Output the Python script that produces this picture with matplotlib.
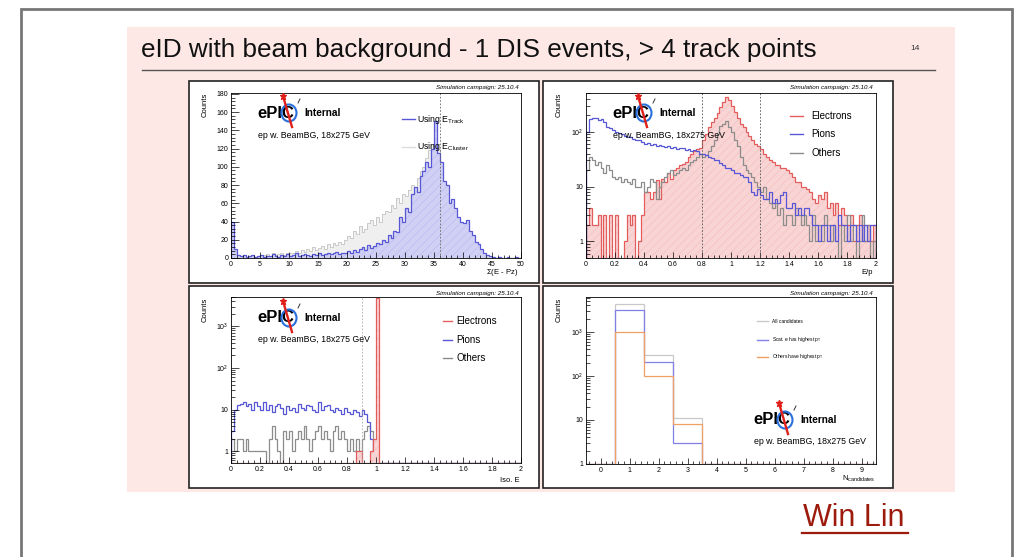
import numpy as np
import matplotlib
matplotlib.use('Agg')
import matplotlib.pyplot as plt
from matplotlib.patches import Rectangle, Ellipse
from matplotlib.lines import Line2D
from matplotlib.ticker import MultipleLocator, FixedLocator, LogLocator, NullFormatter

plt.rcParams['font.family'] = ['Liberation Sans', 'DejaVu Sans']
plt.rcParams['mathtext.fontset'] = 'custom'
plt.rcParams['mathtext.rm'] = 'Liberation Sans'
plt.rcParams['mathtext.it'] = 'Liberation Sans:italic'
plt.rcParams['hatch.linewidth'] = 0.35

# ---- data ----
# panel 1: Sigma(E - Pz), 0.5 wide bins from 0 to 50
epz_edges = np.linspace(0, 50, 101)
epz_track = [
    40, 10, 3, 2, 3, 1, 2, 3, 1, 2,
    3, 1, 2, 2, 4, 2, 1, 3, 2, 4,
    2, 3, 5, 2, 3, 4, 3, 2, 4, 3,
    5, 3, 4, 6, 4, 5, 7, 4, 6, 5,
    8, 6, 9, 7, 10, 12, 9, 14, 11, 13,
    16, 15, 20, 18, 25, 22, 30, 28, 45, 40,
    55, 50, 70, 78, 72, 90, 95, 105, 100, 120,
    150, 115, 105, 85, 80, 60, 65, 55, 45, 40,
    38, 42, 30, 25, 18, 15, 10, 6, 3, 2,
    1, 0, 1, 0, 0, 1, 0, 0, 1, 0]
epz_cluster = [
    35, 5, 2, 1, 2, 1, 1, 2, 1, 1,
    2, 3, 4, 2, 5, 3, 4, 6, 3, 5,
    6, 5, 8, 6, 9, 7, 10, 8, 12, 9,
    11, 13, 10, 15, 12, 16, 14, 18, 15, 20,
    24, 22, 30, 26, 35, 28, 32, 38, 42, 36,
    45, 40, 48, 52, 50, 58, 55, 66, 60, 70,
    68, 75, 80, 78, 88, 95, 100, 110, 118, 125,
    130, 120, 80, 42, 24, 14, 9, 5, 3, 2,
    1, 1, 0, 1, 0, 0, 0, 0, 0, 0,
    0, 0, 0, 0, 0, 0, 0, 0, 0, 0]

# panel 2: E/p, 0.02 wide bins from 0 to 2
ep_edges = np.linspace(0, 2, 101)
ep_electrons = [
    2, 4, 2, 2, 3, 0, 3, 0, 3, 0,
    3, 0, 0, 1, 3, 2, 3, 0, 1, 3,
    8, 8, 6, 8, 13, 6, 14, 12, 18, 14,
    20, 22, 25, 26, 28, 35, 40, 45, 48, 50,
    70, 90, 120, 150, 180, 220, 280, 350, 440, 380,
    300, 230, 180, 140, 120, 100, 85, 70, 60, 55,
    48, 40, 35, 30, 28, 25, 25, 22, 22, 20,
    18, 15, 12, 12, 10, 10, 9, 8, 6, 5,
    7, 6, 8, 4, 5, 3, 5, 2, 4, 3,
    2, 3, 1, 2, 3, 2, 1, 2, 1, 2]
ep_pions = [
    100, 170, 180, 175, 165, 170, 150, 120, 115, 110,
    100, 95, 90, 85, 80, 82, 75, 70, 72, 65,
    60, 62, 58, 60, 55, 58, 55, 52, 55, 50,
    52, 48, 50, 50, 47, 48, 45, 46, 45, 40,
    40, 38, 35, 33, 30, 30, 27, 25, 22, 22,
    20, 18, 18, 16, 15, 15, 12, 8, 7, 9,
    7, 6, 6, 8, 5, 6, 5, 7, 8, 4,
    4, 5, 3, 4, 3, 4, 4, 3, 2, 2,
    1, 2, 2, 1, 2, 2, 1, 3, 2, 2,
    1, 2, 2, 1, 2, 1, 2, 1, 2, 2]
ep_others = [
    20, 35, 30, 25, 28, 22, 18, 25, 20, 15,
    14, 15, 12, 14, 12, 11, 14, 10, 10, 12,
    8, 10, 14, 12, 6, 10, 12, 15, 18, 20,
    16, 18, 20, 22, 20, 25, 28, 30, 35, 40,
    35, 38, 45, 55, 70, 90, 130, 140, 160, 120,
    100, 70, 55, 35, 25, 20, 18, 15, 12, 10,
    8, 10, 6, 5, 4, 5, 3, 4, 2, 3,
    3, 2, 4, 3, 2, 3, 2, 1, 3, 1,
    2, 1, 3, 2, 1, 2, 1, 0, 2, 1,
    3, 1, 2, 0, 1, 3, 1, 2, 0, 1]

# panel 3: Iso. E, 0.02 wide bins from 0 to 2
iso_edges = np.linspace(0, 2, 101)
iso_electrons = [
    0, 0, 0, 0, 0, 0, 0, 0, 0, 0,
    0, 0, 0, 0, 0, 0, 0, 0, 0, 0,
    0, 0, 0, 0, 0, 0, 0, 0, 0, 0,
    0, 0, 0, 0, 0, 0, 0, 0, 0, 0,
    0, 0, 0, 1, 1, 0, 0, 0, 1, 2,
    4700, 0, 0, 0, 0, 0, 0, 0, 0, 0,
    0, 0, 0, 0, 0, 0, 0, 0, 0, 0,
    0, 0, 0, 0, 0, 0, 0, 0, 0, 0,
    0, 0, 0, 0, 0, 0, 0, 0, 0, 0,
    0, 0, 0, 0, 0, 0, 0, 0, 0, 0]
iso_pions = [
    3, 10, 13, 14, 15, 12, 14, 10, 15, 12,
    10, 15, 10, 13, 9, 12, 14, 11, 8, 12,
    10, 11, 9, 14, 11, 10, 13, 12, 10, 9,
    15, 10, 12, 13, 10, 9, 11, 10, 8, 11,
    9, 8, 10, 9, 7, 10, 8, 5, 2, 0,
    0, 0, 0, 0, 0, 0, 0, 0, 0, 0,
    0, 0, 0, 0, 0, 0, 0, 0, 0, 0,
    0, 0, 0, 0, 0, 0, 0, 0, 0, 0,
    0, 0, 0, 0, 0, 0, 0, 0, 0, 0,
    0, 0, 0, 0, 0, 0, 0, 0, 0, 0]
iso_others = [
    2, 1, 2, 2, 1, 2, 1, 1, 1, 1,
    1, 1, 0, 2, 4, 2, 1, 0, 3, 2,
    3, 1, 2, 3, 2, 4, 2, 1, 2, 3,
    4, 2, 3, 2, 1, 3, 4, 2, 3, 2,
    1, 2, 1, 2, 1, 2, 3, 4, 3, 0,
    0, 0, 0, 0, 0, 0, 0, 0, 0, 0,
    0, 0, 0, 0, 0, 0, 0, 0, 0, 0,
    0, 0, 0, 0, 0, 0, 0, 0, 0, 0,
    0, 0, 0, 0, 0, 0, 0, 0, 0, 0,
    0, 0, 0, 0, 0, 0, 0, 0, 0, 0]

# panel 4: number of candidates, bins centred on 0..9
ncand_edges = np.arange(-0.5, 10.5, 1.0)
ncand_all = [0, 4200, 295, 11, 0, 0, 0, 0, 0, 0]
ncand_scat = [0, 3100, 205, 3, 0, 0, 0, 0, 0, 0]
ncand_other = [0, 1020, 98, 8, 0, 0, 0, 0, 0, 0]

title = 'eID with beam background - 1 DIS events, > 4 track points'
campaign = 'Simulation campaign: 25.10.4'
beam_text = 'ep w. BeamBG, 18x275 GeV'

# ---- colours ----
BLUE = '#5757d6'
RED = '#e35d5d'
GREY = '#8c8c8c'
LGREY = '#c9c9c9'
ORANGE = '#f0a064'

W, H = 1023, 557
fig = plt.figure(figsize=(W / 100, H / 100), dpi=100)


def fx(x):
    return x / W


def fy(y):
    return 1 - y / H


def box(x0, y0, x1, y1, **kw):
    r = Rectangle((fx(x0), fy(y1)), (x1 - x0) / W, (y1 - y0) / H,
                  transform=fig.transFigure, **kw)
    fig.add_artist(r)


def add_ax(l, t, r, b):
    return fig.add_axes([l / W, 1 - b / H, (r - l) / W, (b - t) / H])


def draw_logo(x, y):
    # rough ePIC logo: text + blue ring + red arrow
    fig.text(fx(x), fy(y), 'ePIC', fontsize=12, fontweight='bold',
             va='center', ha='left', color='black')
    fig.add_artist(Ellipse((fx(x + 32), fy(y)), 15 / W, 17 / H, transform=fig.transFigure,
                           fill=False, ec='#2a6fdc', lw=1.5, zorder=4))
    fig.add_artist(Line2D([fx(x + 26), fx(x + 35)], [fy(y - 17), fy(y + 14)],
                          transform=fig.transFigure, color='#e0201b', lw=1.7, zorder=5))
    fig.add_artist(Line2D([fx(x + 26)], [fy(y - 17)], transform=fig.transFigure,
                          marker='*', ms=5, color='#e0201b', zorder=5))
    fig.add_artist(Line2D([fx(x + 41), fx(x + 43)], [fy(y - 10), fy(y - 14)],
                          transform=fig.transFigure, color='#333', lw=0.7, zorder=5))
    fig.text(fx(x + 47), fy(y), 'Internal', fontsize=7.3, fontweight='bold',
             va='center', ha='left')
    fig.text(fx(x + 1), fy(y + 22), beam_text, fontsize=6.3, va='center', ha='left')


def style(ax, xmaj, xmin):
    ax.tick_params(which='both', direction='in', top=False, right=False,
                   labelsize=5, pad=2, width=0.5)
    ax.tick_params(axis='y', which='major', length=6)
    ax.tick_params(axis='y', which='minor', length=3)
    ax.tick_params(axis='x', which='major', length=4)
    ax.tick_params(axis='x', which='minor', length=2)
    ax.xaxis.set_major_locator(MultipleLocator(xmaj))
    ax.xaxis.set_minor_locator(MultipleLocator(xmin))
    for s in ax.spines.values():
        s.set_linewidth(0.6)


def log_y(ax, lo, hi, labels):
    ax.set_yscale('log')
    ax.set_ylim(lo, hi)
    ax.yaxis.set_major_locator(FixedLocator([10 ** i for i in range(len(labels))]))
    ax.set_yticklabels(labels)
    ax.yaxis.set_minor_locator(LogLocator(base=10, subs=np.arange(2, 10)))
    ax.yaxis.set_minor_formatter(NullFormatter())


def hist(ax, vals, edges, color, floor, lw=0.9, fc=None, hatch=None, hc=None):
    v = np.maximum(np.asarray(vals, dtype=float), floor)
    if fc is not None:
        ax.stairs(v, edges, baseline=floor, fill=True, color=fc, lw=0)
        if hatch:
            ax.stairs(v, edges, baseline=floor, fill=True, facecolor='none',
                      edgecolor=hc, hatch=hatch, lw=0)
    ax.stairs(v, edges, baseline=floor, color=color, lw=lw)


def legend(ax, x0, x1, xt, ys, names, colors, fs):
    for y, n, c in zip(ys, names, colors):
        ax.plot([x0, x1], [y, y], color=c, lw=1.0, transform=ax.transAxes, clip_on=False)
        ax.text(xt, y, n, fontsize=fs, va='center', ha='left', transform=ax.transAxes)


# ---- slide background ----
box(21, 9, 1012, 620, fc='white', ec='#777777', lw=2, zorder=-5)
box(127, 27, 955, 492, fc='#fde8e6', ec='none', zorder=-4)
fig.add_artist(Line2D([fx(142), fx(935)], [fy(70), fy(70)], transform=fig.transFigure,
                      color='#555555', lw=1.0, zorder=-3))
fig.text(fx(141), fy(50), title, fontsize=18.8, va='center', ha='left', color='#111111')
fig.text(fx(915), fy(48), '14', fontsize=6, va='center', ha='center', color='#333333')
fig.text(fx(854), fy(518), 'Win Lin', fontsize=22, va='center', ha='center', color='#9c1b0c')
fig.add_artist(Line2D([fx(802), fx(908)], [fy(533), fy(533)], transform=fig.transFigure,
                      color='#9c1b0c', lw=1.6))

panels = [(189, 81, 539, 283), (543, 81, 893, 283), (189, 286, 539, 488), (543, 286, 893, 488)]
for p in panels:
    box(*p, fc='white', ec='#222222', lw=1.2, zorder=-2)

# ---- panel 1 ----
ax1 = add_ax(231, 93, 521, 258)
style(ax1, 5, 1)
ax1.set_xlim(0, 50)
ax1.set_ylim(0, 181)
ax1.yaxis.set_major_locator(MultipleLocator(20))
ax1.yaxis.set_minor_locator(MultipleLocator(4))
ax1.set_xticks(range(0, 51, 5))
hist(ax1, epz_cluster, epz_edges, LGREY, 0, lw=0.7, fc='#efefef')
hist(ax1, epz_track, epz_edges, BLUE, 0, lw=0.9, fc='#d0d0f5', hatch='////', hc='#b4b4ee')
ax1.axvline(36, color='#666666', ls=(0, (2, 2)), lw=0.6)
legend(ax1, 0.59, 0.634, 0.641, [0.842, 0.673],
       [r'Using E$_{\rm Track}$', r'Using E$_{\rm Cluster}$'], [BLUE, '#dddddd'], 6.3)

# ---- panel 2 ----
ax2 = add_ax(586, 93, 876, 258)
style(ax2, 0.2, 0.04)
ax2.set_xlim(0, 2)
log_y(ax2, 0.5, 510, ['1', '10', r'10$^2$'])
ax2.set_xticks(np.arange(0, 2.01, 0.2))
ax2.set_xticklabels(['0', '0.2', '0.4', '0.6', '0.8', '1', '1.2', '1.4', '1.6', '1.8', '2'])
hist(ax2, ep_electrons, ep_edges, RED, 0.5, lw=0.9, fc='#f9d4d4', hatch='////', hc='#f1baba')
hist(ax2, ep_others, ep_edges, GREY, 0.5, lw=0.9)
hist(ax2, ep_pions, ep_edges, BLUE, 0.5, lw=0.9)
ax2.axvline(0.8, color='#555555', ls=(0, (2, 2)), lw=0.6)
ax2.axvline(1.2, color='#555555', ls=(0, (2, 2)), lw=0.6)
legend(ax2, 0.703, 0.748, 0.778, [0.861, 0.752, 0.636],
       ['Electrons', 'Pions', 'Others'], [RED, BLUE, GREY], 7)

# ---- panel 3 ----
ax3 = add_ax(231, 297, 521, 463)
style(ax3, 0.2, 0.04)
ax3.set_xlim(0, 2)
log_y(ax3, 0.52, 5100, ['1', '10', r'10$^2$', r'10$^3$'])
ax3.set_xticks(np.arange(0, 2.01, 0.2))
ax3.set_xticklabels(['0', '0.2', '0.4', '0.6', '0.8', '1', '1.2', '1.4', '1.6', '1.8', '2'])
hist(ax3, iso_others, iso_edges, GREY, 0.52, lw=0.9)
hist(ax3, iso_pions, iso_edges, BLUE, 0.52, lw=0.9)
hist(ax3, iso_electrons, iso_edges, RED, 0.52, lw=0.9, fc='#f9d4d4', hatch='////', hc='#f1baba')
ax3.axvline(0.9, color='#aaaaaa', ls=(0, (2, 2)), lw=0.6)
legend(ax3, 0.731, 0.762, 0.776, [0.855, 0.741, 0.633],
       ['Electrons', 'Pions', 'Others'], [RED, BLUE, GREY], 7)

# ---- panel 4 ----
ax4 = add_ax(586, 297, 876, 464)
style(ax4, 1, 0.2)
ax4.set_xlim(-0.5, 9.5)
log_y(ax4, 1, 6200, ['1', '10', r'10$^2$', r'10$^3$'])
ax4.set_xticks(range(0, 10))
hist(ax4, ncand_all, ncand_edges, LGREY, 1, lw=0.9)
hist(ax4, ncand_scat, ncand_edges, '#8080e6', 1, lw=0.9)
hist(ax4, ncand_other, ncand_edges, ORANGE, 1, lw=0.9)
legend(ax4, 0.59, 0.628, 0.641, [0.856, 0.743, 0.641],
       ['All candidates', r'Scat. e has highest p$_{\rm T}$', r'Others have highest p$_{\rm T}$'],
       [LGREY, '#8080e6', ORANGE], 3.5)

# ---- per-panel texts ----
for ax, p in zip([ax1, ax2, ax3, ax4], panels):
    fig.text(fx(p[2] - 20), fy(p[1] + 7), campaign, fontsize=4.5, style='italic',
             ha='right', va='center')
    fig.text(fx(p[0] + 16), fy(p[1] + 12), 'Counts', fontsize=5.5, rotation=90,
             ha='center', va='top')

fig.text(fx(518), fy(273), r'$\Sigma$(E - Pz)', fontsize=5.5, ha='right', va='center')
fig.text(fx(873), fy(273), 'E/p', fontsize=5.5, ha='right', va='center')
fig.text(fx(520), fy(481), 'Iso. E', fontsize=5.5, ha='right', va='center')
fig.text(fx(875), fy(479), r'N$_{\rm candidates}$', fontsize=5.5, ha='right', va='center')

draw_logo(257, 113)
draw_logo(612, 113)
draw_logo(257, 318)
draw_logo(753, 420)

fig.savefig('out.png', dpi=100)
